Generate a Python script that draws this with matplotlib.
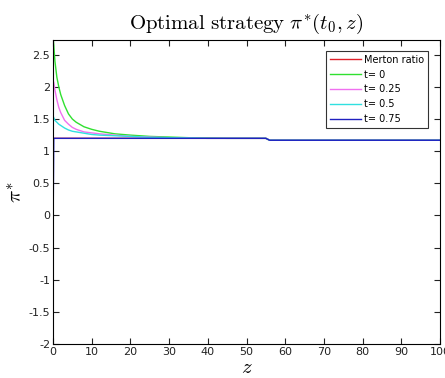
import matplotlib
matplotlib.use("Agg")
import matplotlib.pyplot as plt

plt.rcParams['mathtext.fontset'] = 'cm'
plt.rcParams['axes.unicode_minus'] = False
plt.rcParams['font.family'] = 'DejaVu Sans'

z = [0, 0.2, 0.5, 1, 1.5, 2, 3, 4, 5, 6, 8, 10, 12, 16, 20, 25, 30, 35, 40, 45, 50, 55, 56, 70, 85, 100]
merton = [1.2] * 22 + [1.17] * 4
t0 = [2.78, 2.65, 2.40, 2.15, 2.00, 1.88, 1.71, 1.58, 1.50, 1.45, 1.38, 1.34, 1.31, 1.27, 1.25, 1.23, 1.22, 1.21, 1.205, 1.2, 1.2, 1.2, 1.17, 1.17, 1.17, 1.17]
t25 = [2.10, 2.07, 1.95, 1.80, 1.68, 1.60, 1.48, 1.42, 1.37, 1.34, 1.30, 1.285, 1.27, 1.25, 1.23, 1.22, 1.21, 1.205, 1.2, 1.2, 1.2, 1.2, 1.17, 1.17, 1.17, 1.17]
t50 = [1.55, 1.52, 1.48, 1.45, 1.42, 1.40, 1.36, 1.33, 1.31, 1.30, 1.28, 1.26, 1.25, 1.24, 1.23, 1.215, 1.21, 1.205, 1.2, 1.2, 1.2, 1.2, 1.17, 1.17, 1.17, 1.17]
t75 = [-0.35, 1.2, 1.2, 1.2, 1.2, 1.2, 1.2, 1.2, 1.2, 1.2, 1.2, 1.2, 1.2, 1.2, 1.2, 1.2, 1.2, 1.2, 1.2, 1.2, 1.2, 1.2, 1.17, 1.17, 1.17, 1.17]

labels = ['Merton ratio', 't= 0', 't= 0.25', 't= 0.5', 't= 0.75']
colors = ['#e0202a', '#30e030', '#f070f0', '#30e0e0', '#2020c0']
series = [merton, t0, t25, t50, t75]

fig = plt.figure(figsize=(4.45, 3.78), dpi=100)
ax = fig.add_axes([53/445, 34/378, 387/445, 304/378])

for y, c, l in zip(series, colors, labels):
    ax.plot(z, y, color=c, lw=1.0, label=l)

ax.set_xlim(0, 100)
ax.set_ylim(-2, 2.73)
ax.set_xticks(range(0, 101, 10))
ax.set_yticks([-2, -1.5, -1, -0.5, 0, 0.5, 1, 1.5, 2, 2.5])
ax.set_yticklabels(['-2', '-1.5', '-1', '-0.5', '0', '0.5', '1', '1.5', '2', '2.5'])
ax.tick_params(direction='in', top=True, right=True, labelsize=8, length=4, colors='#222222', pad=2)
for s in ax.spines.values():
    s.set_linewidth(0.8)

ax.set_title(r'$\mathrm{Optimal\ strategy}\ \pi^{*}(t_0,z)$', fontsize=15, pad=8)
ax.set_xlabel(r'$z$', fontsize=15, labelpad=0)
ax.set_ylabel(r'$\pi^{*}$', fontsize=15, labelpad=2)

leg = ax.legend(loc='upper right', bbox_to_anchor=(1.0 - 7/387, 1.0 - 6/304), fontsize=7,
                frameon=True, fancybox=False, edgecolor='black', borderpad=0.4,
                handlelength=3.2, labelspacing=0.5, handletextpad=0.3)
leg.get_frame().set_linewidth(0.8)

fig.savefig('out.png', dpi=100)
